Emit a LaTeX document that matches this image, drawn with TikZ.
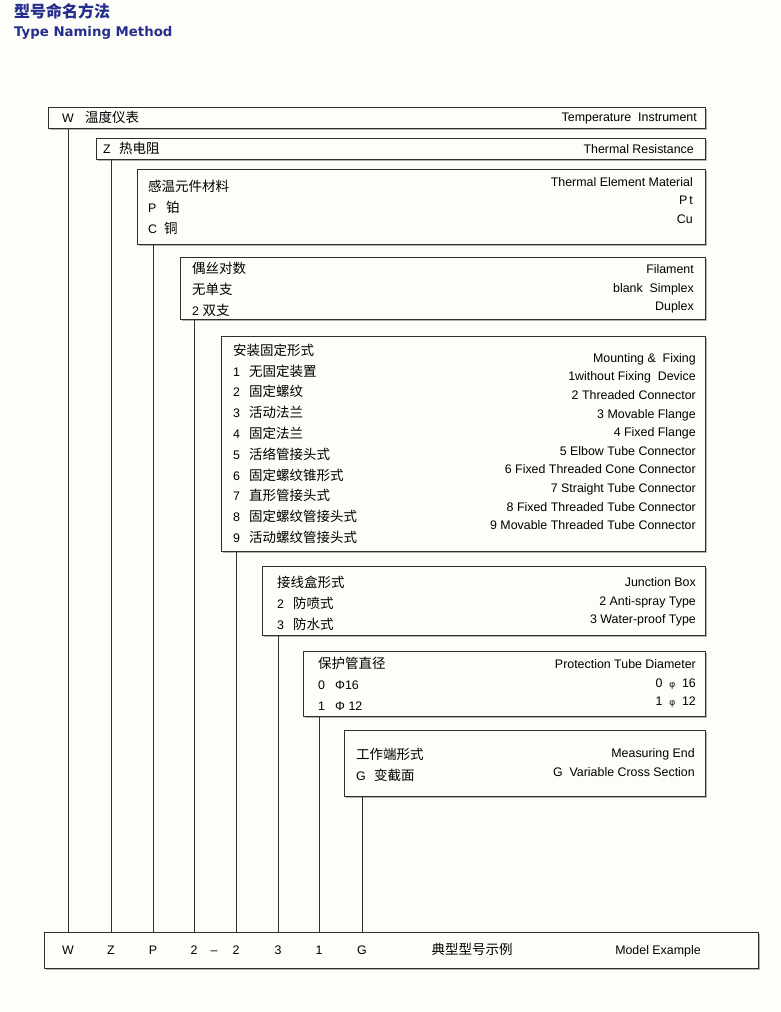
\documentclass[tikz,border=0pt]{standalone}
\usepackage{fontspec}
\setmainfont{Liberation Sans}
\newfontfamily\cjk{Noto Sans CJK SC}
\newfontfamily\headfont{DejaVu Sans}
\usetikzlibrary{shadows}

\definecolor{frame}{RGB}{52,46,40}
\definecolor{titleblue}{RGB}{36,46,140}
\definecolor{paper}{RGB}{253,253,249}

\newcommand{\zh}[1]{{\fontsize{13.5}{15}\cjk #1}}

\begin{document}
\begin{tikzpicture}[x=1pt, y=-1pt,
    box/.style={
        draw=frame, line width=0.9pt, fill=paper,
        drop shadow={shadow xshift=1.3pt, shadow yshift=-1.3pt, fill=gray!60, opacity=1},
        anchor=north west, inner sep=0pt
    },
    lft/.style={anchor=west, inner sep=0pt, text height=9pt, text depth=2.5pt,
        yshift=-2pt, font=\fontsize{12.4}{14}\selectfont},
    rgt/.style={anchor=east, inner sep=0pt, text height=9pt, text depth=2.5pt,
        yshift=-1pt, font=\fontsize{12.4}{14}\selectfont},
    code/.style={inner sep=0pt, text height=9pt, text depth=2.5pt,
        yshift=-1pt, font=\fontsize{12.4}{14}\selectfont},
    stem/.style={draw=frame, line width=0.9pt}
]
    \path[use as bounding box, fill=paper] (0,0) rectangle (781,1012);

    % Heading
    \node[anchor=west, inner sep=0pt, text=titleblue,
          font=\fontsize{16}{18}\cjk\bfseries] (titlezh) at (14,11) {型号命名方法};
    \node[anchor=west, inner sep=0pt, text=titleblue,
          font=\fontsize{13.3}{16}\headfont\bfseries] (titleen) at (14,33) {Type Naming Method};

    % Boxes, one per code position
    \node[box, minimum width=657pt, minimum height=21pt] (b1) at (48,107) {};
    \node[box, minimum width=609pt, minimum height=21pt] (b2) at (96,138) {};
    \node[box, minimum width=568pt, minimum height=75pt] (b3) at (137,169) {};
    \node[box, minimum width=525pt, minimum height=62pt] (b4) at (180,257) {};
    \node[box, minimum width=484pt, minimum height=215pt] (b5) at (221,336) {};
    \node[box, minimum width=443pt, minimum height=69pt] (b6) at (262,566) {};
    \node[box, minimum width=402pt, minimum height=65pt] (b7) at (303,651) {};
    \node[box, minimum width=361pt, minimum height=66pt] (b8) at (344,730) {};
    \node[box, minimum width=714pt, minimum height=36pt] (ex) at (44,932) {};

    % Temperature instrument
    \node[lft] (w1) at (62,117) {W};
    \node[lft] (w2) at (85,117) {\zh{温度仪表}};
    \node[rgt] (w3) at (697,117) {Temperature\ \ Instrument};

    % Thermal resistance
    \node[lft] (z1) at (103,148) {Z};
    \node[lft] (z2) at (119,148) {\zh{热电阻}};
    \node[rgt] (z3) at (694,149) {Thermal Resistance};

    % Element material
    \node[lft] (p0) at (148,186) {\zh{感温元件材料}};
    \node[lft] (p1) at (148,207) {P};
    \node[lft] (p2) at (166,207) {\zh{铂}};
    \node[lft] (p3) at (148,228) {C};
    \node[lft] (p4) at (164,228) {\zh{铜}};
    \node[rgt] (p5) at (693,182) {Thermal Element Material};
    \node[rgt] (p6) at (693,200) {P\,t};
    \node[rgt] (p7) at (693,219) {Cu};

    % Filament
    \node[lft] (f0) at (192,268) {\zh{偶丝对数}};
    \node[lft] (f1) at (192,289) {\zh{无单支}};
    \node[lft] (f2) at (192,310) {2 \zh{双支}};
    \node[rgt] (f3) at (694,269) {Filament};
    \node[rgt] (f4) at (694,288) {blank\ \ Simplex};
    \node[rgt] (f5) at (694,306) {Duplex};

    % Mounting and fixing
    \node[lft] (m0) at (233,350) {\zh{安装固定形式}};
    \node[lft] (m1) at (233,370.8) {1};
    \node[lft] (m1z) at (249,370.8) {\zh{无固定装置}};
    \node[lft] (m2) at (233,391.6) {2};
    \node[lft] (m2z) at (249,391.6) {\zh{固定螺纹}};
    \node[lft] (m3) at (233,412.4) {3};
    \node[lft] (m3z) at (249,412.4) {\zh{活动法兰}};
    \node[lft] (m4) at (233,433.2) {4};
    \node[lft] (m4z) at (249,433.2) {\zh{固定法兰}};
    \node[lft] (m5) at (233,454) {5};
    \node[lft] (m5z) at (249,454) {\zh{活络管接头式}};
    \node[lft] (m6) at (233,474.8) {6};
    \node[lft] (m6z) at (249,474.8) {\zh{固定螺纹锥形式}};
    \node[lft] (m7) at (233,495.6) {7};
    \node[lft] (m7z) at (249,495.6) {\zh{直形管接头式}};
    \node[lft] (m8) at (233,516.4) {8};
    \node[lft] (m8z) at (249,516.4) {\zh{固定螺纹管接头式}};
    \node[lft] (m9) at (233,537.2) {9};
    \node[lft] (m9z) at (249,537.2) {\zh{活动螺纹管接头式}};
    \node[rgt] (n0) at (696,358) {Mounting \&\ \ Fixing};
    \node[rgt] (n1) at (696,376.6) {1without Fixing\ \ Device};
    \node[rgt] (n2) at (696,395.2) {2 Threaded Connector};
    \node[rgt] (n3) at (696,413.8) {3 Movable Flange};
    \node[rgt] (n4) at (696,432.4) {4 Fixed Flange};
    \node[rgt] (n5) at (696,451) {5 Elbow Tube Connector};
    \node[rgt] (n6) at (696,469.6) {6 Fixed Threaded Cone Connector};
    \node[rgt] (n7) at (696,488.2) {7 Straight Tube Connector};
    \node[rgt] (n8) at (696,506.8) {8 Fixed Threaded Tube Connector};
    \node[rgt] (n9) at (696,525.4) {9 Movable Threaded Tube Connector};

    % Junction box
    \node[lft] (j0) at (277,582) {\zh{接线盒形式}};
    \node[lft] (j1) at (277,603) {2};
    \node[lft] (j1z) at (293,603) {\zh{防喷式}};
    \node[lft] (j2) at (277,624) {3};
    \node[lft] (j2z) at (293,624) {\zh{防水式}};
    \node[rgt] (j3) at (696,582) {Junction Box};
    \node[rgt] (j4) at (696,601) {2 Anti-spray Type};
    \node[rgt] (j5) at (696,619) {3 Water-proof Type};

    % Protection tube
    \node[lft] (t0) at (318,663) {\zh{保护管直径}};
    \node[lft] (t1) at (318,684) {0};
    \node[lft] (t1z) at (335,684) {Φ16};
    \node[lft] (t2) at (318,705) {1};
    \node[lft] (t2z) at (335,705) {Φ 12};
    \node[rgt] (t3) at (696,664) {Protection Tube Diameter};
    \node[rgt] (t4) at (696,683) {0\ \ {\small φ}\ \ 16};
    \node[rgt] (t5) at (696,701) {1\ \ {\small φ}\ \ 12};

    % Measuring end
    \node[lft] (g0) at (356,754) {\zh{工作端形式}};
    \node[lft] (g1) at (356,775) {G};
    \node[lft] (g1z) at (374,775) {\zh{变截面}};
    \node[rgt] (g2) at (695,753) {Measuring End};
    \node[rgt] (g3) at (695,772) {G\ \ Variable Cross Section};

    % Model example
    \node[code] (eW) at (68,950) {W};
    \node[code] (eZ) at (111,950) {Z};
    \node[code] (eP) at (153,950) {P};
    \node[code] (e2) at (194,950) {2};
    \node[code] (edash) at (214,950) {–};
    \node[code] (eM) at (236,950) {2};
    \node[code] (eJ) at (278,950) {3};
    \node[code] (eT) at (319,950) {1};
    \node[code] (eG) at (362,950) {G};
    \node[code] (exzh) at (472,950) {\zh{典型型号示例}};
    \node[code] (exen) at (658,950) {Model Example};

    % Stems from each box down to the example
    \draw[stem] (eW |- b1.south) -- (eW |- ex.north);
    \draw[stem] (eZ |- b2.south) -- (eZ |- ex.north);
    \draw[stem] (eP |- b3.south) -- (eP |- ex.north);
    \draw[stem] (e2 |- b4.south) -- (e2 |- ex.north);
    \draw[stem] (eM |- b5.south) -- (eM |- ex.north);
    \draw[stem] (eJ |- b6.south) -- (eJ |- ex.north);
    \draw[stem] (eT |- b7.south) -- (eT |- ex.north);
    \draw[stem] (eG |- b8.south) -- (eG |- ex.north);
\end{tikzpicture}
\end{document}
